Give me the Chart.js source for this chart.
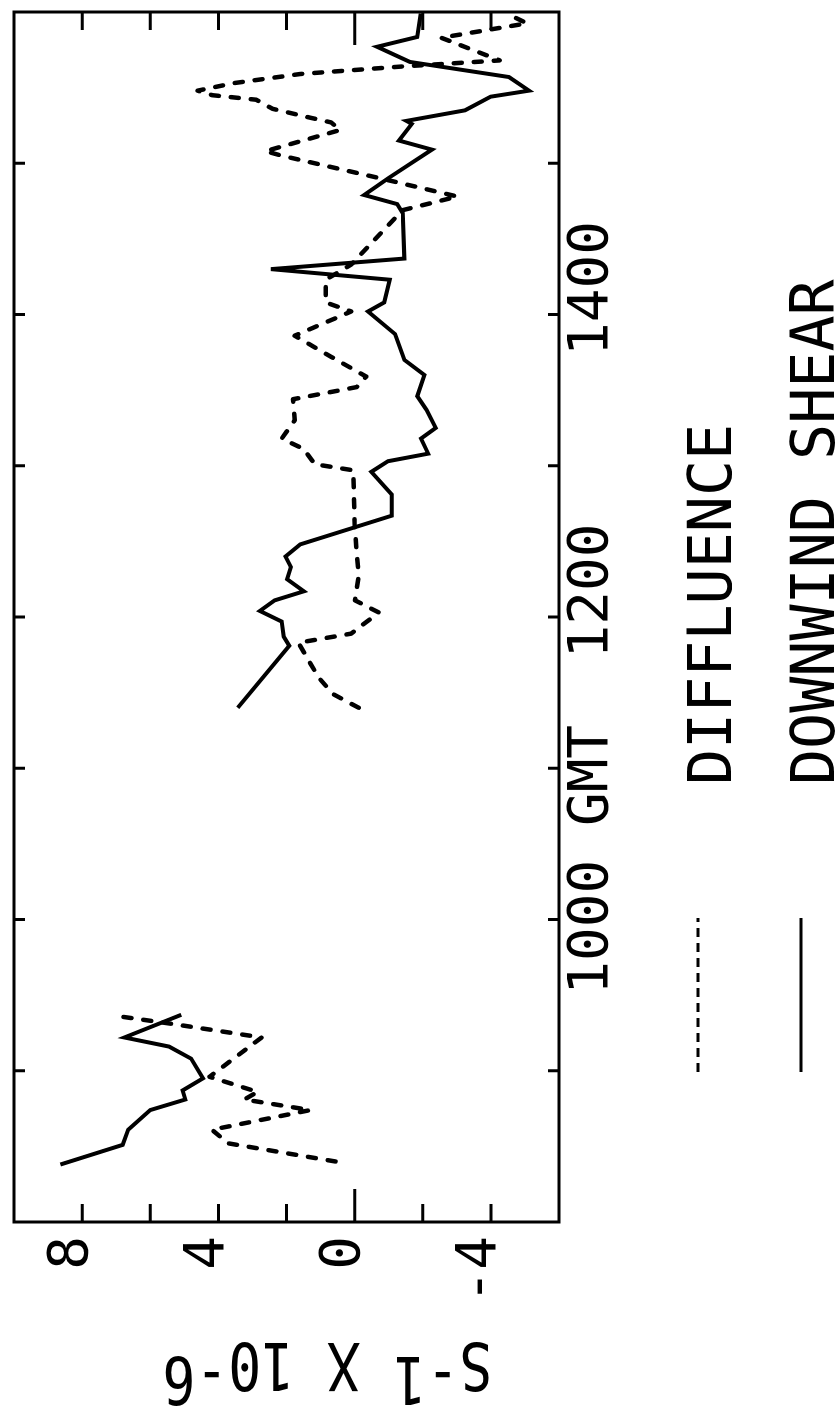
<!DOCTYPE html>
<html>
<head>
<meta charset="utf-8">
<script src="https://cdn.jsdelivr.net/npm/chart.js@4/dist/chart.umd.min.js"></script>
<style>
  html, body { margin: 0; padding: 0; background: #fff; overflow: hidden; }
  #page { position: absolute; left: 0; top: 0; width: 836px; height: 1414px; overflow: hidden; background: #fff; }
  #rot { position: absolute; left: 0; top: 1414px; width: 1414px; height: 836px;
         transform-origin: 0 0; transform: rotate(-90deg); }
</style>
</head>
<body>
<div id="page"><div id="rot"><canvas id="c" width="1414" height="836"></canvas></div></div>
<script>
// ---- data (time in decimal hours GMT, values in s^-1 x 10^-6; null = gap) ----
const seriesNames = ['DIFFLUENCE', 'DOWNWIND SHEAR'];

const diffTimes = [8.40, 8.52, 8.61, 8.74, 8.81, 8.86, 8.96, 9.22, 9.31, 9.36,
  10.4,
  11.40, 11.49, 11.60, 11.83, 11.89, 12.03, 12.11, 12.27, 12.60, 12.97,
  13.01, 13.11, 13.18, 13.30, 13.44, 13.52, 13.59, 13.72, 13.86, 14.02,
  14.08, 14.23, 14.33, 14.69, 14.78, 14.90, 15.05, 15.08, 15.22, 15.27,
  15.30, 15.36, 15.42, 15.45, 15.48, 15.53, 15.59, 15.64, 15.68, 15.83,
  15.925, 15.99];
const diffValues = [0.56, 3.71, 4.19, 1.30, 3.24, 2.85, 4.26, 2.73, 5.36, 6.92,
  null,
  -0.12, 0.63, 1.06, 1.65, 0.10, -0.71, -0.01, -0.12, 0.0, 0.04,
  1.17, 1.49, 2.14, 1.76, 1.81, -0.06, -0.34, 0.69, 1.76, 0.10,
  0.85, 0.85, 0.10, -1.41, -3.02, -0.76, 2.14, 2.62, 0.42, 0.69,
  1.28, 2.41, 2.89, 4.18, 4.61, 3.54, 1.60, -1.41, -4.26, -2.54,
  -5.06, -4.47];

const shearTimes = [8.38, 8.51, 8.61, 8.74, 8.81, 8.87, 8.95, 9.08, 9.16, 9.22, 9.37,
  10.4,
  11.40, 11.81, 11.87, 11.97, 12.04, 12.11, 12.17, 12.25, 12.33, 12.40,
  12.48, 12.67, 12.81, 12.96, 13.03, 13.08, 13.18, 13.25, 13.37, 13.46,
  13.60, 13.70, 13.87, 14.02, 14.08, 14.23, 14.30, 14.37, 14.67, 14.73,
  14.79, 14.90, 15.09, 15.15, 15.26, 15.28, 15.35, 15.44, 15.48, 15.57,
  15.67, 15.77, 15.835, 15.99];
const shearValues = [8.64, 6.81, 6.65, 6.00, 4.97, 5.05, 4.45, 4.80, 5.45, 6.76, 5.09,
  null,
  3.43, 1.92, 2.08, 2.14, 2.78, 2.35, 1.49, 1.98, 1.87, 2.03,
  1.60, -1.09, -1.09, -0.49, -0.98, -2.16, -1.95, -2.38, -2.11, -1.84,
  -2.05, -1.46, -1.19, -0.39, -0.87, -1.03, 2.46, -1.46, -1.41, -1.25,
  -0.28, -0.98, -2.27, -1.30, -1.68, -1.52, -3.24, -3.99, -5.12, -4.53,
  -1.62, -0.66, -1.84, -1.94];

const timeTickLabels = { 10: '  1000 GMT', 12: '1200', 14: '1400' };
const valueTickLabels = [8, 4, 0, -4];
const axisTitleParts = [['S', false], ['-1', true], [' X 10', false], ['-6', true]];

// ---- helpers ----
const MONO = "'DejaVu Sans Mono', 'Liberation Mono', monospace";
function toPoints(ts, vs) { return ts.map((t, i) => ({ x: t, y: vs[i] })); }

const frameTicks = {
  id: 'frameTicks',
  afterDraw(chart) {
    const { ctx, chartArea: a, scales: { x, y } } = chart;
    ctx.save();
    ctx.strokeStyle = '#000';
    ctx.lineWidth = 3;
    ctx.strokeRect(a.left, a.top, a.right - a.left, a.bottom - a.top);
    ctx.beginPath();
    x.ticks.forEach(t => {
      if (t.value <= x.min || t.value >= x.max) return;
      const px = x.getPixelForValue(t.value);
      ctx.moveTo(px, a.bottom); ctx.lineTo(px, a.bottom - 11);
      ctx.moveTo(px, a.top); ctx.lineTo(px, a.top + 11);
    });
    y.ticks.forEach(t => {
      if (t.value <= y.min || t.value >= y.max) return;
      const py = y.getPixelForValue(t.value);
      const len = t.value === 0 ? 33 : 18;
      ctx.moveTo(a.left, py); ctx.lineTo(a.left + len, py);
      ctx.moveTo(a.right, py); ctx.lineTo(a.right - len, py);
    });
    ctx.stroke();
    ctx.restore();
  }
};

const axisTitle = {
  id: 'axisTitle',
  afterDraw(chart) {
    const { ctx, chartArea: a } = chart;
    const pitch = 33;
    const chars = [];
    axisTitleParts.forEach(([s, sup]) => s.split('').forEach(c => chars.push([c, sup])));
    const n = chars.length;
    const cy = a.top + (a.bottom - a.top) * 0.575;
    const baseX = 71;
    ctx.save();
    ctx.translate(0, cy);
    ctx.rotate(-Math.PI / 2);
    ctx.fillStyle = '#000';
    ctx.font = '66px ' + MONO;
    ctx.textAlign = 'center';
    ctx.textBaseline = 'alphabetic';
    chars.forEach(([c, sup], i) => {
      const lx = (i - (n - 1) / 2) * pitch;
      ctx.save();
      ctx.translate(lx, sup ? baseX - 14 : baseX);
      ctx.scale(0.83, 1);
      ctx.fillText(c, 0, 0);
      ctx.restore();
    });
    ctx.restore();
  }
};

const sideLegend = {
  id: 'sideLegend',
  afterDraw(chart) {
    const { ctx, chartArea: a } = chart;
    ctx.save();
    ctx.fillStyle = '#000';
    ctx.strokeStyle = '#000';
    ctx.font = '60px ' + MONO;
    ctx.textAlign = 'left';
    ctx.textBaseline = 'alphabetic';
    chart.data.datasets.forEach((ds, i) => {
      const ly = a.bottom + 139 + i * 103;
      ctx.beginPath();
      ctx.lineWidth = 3;
      ctx.setLineDash(ds.borderDash && ds.borderDash.length ? [9, 6] : []);
      ctx.moveTo(a.left + 150, ly);
      ctx.lineTo(a.left + 304, ly);
      ctx.stroke();
      ctx.setLineDash([]);
      ctx.fillText(ds.label, a.left + 437, ly + 33);
    });
    ctx.restore();
  }
};

new Chart(document.getElementById('c'), {
  type: 'line',
  data: {
    datasets: [
      {
        label: seriesNames[0],
        data: toPoints(diffTimes, diffValues),
        borderColor: '#000',
        borderWidth: 4.5,
        borderDash: [8, 12],
        borderCapStyle: 'round',
        borderJoinStyle: 'round',
        pointRadius: 0,
        tension: 0,
        fill: false,
        spanGaps: false
      },
      {
        label: seriesNames[1],
        data: toPoints(shearTimes, shearValues),
        borderColor: '#000',
        borderWidth: 4,
        borderJoinStyle: 'miter',
        pointRadius: 0,
        tension: 0,
        fill: false,
        spanGaps: false
      }
    ]
  },
  options: {
    responsive: false,
    maintainAspectRatio: false,
    animation: false,
    layout: { padding: { top: 14, right: 12, left: 0, bottom: 0 } },
    plugins: { legend: { display: false }, tooltip: { enabled: false }, title: { display: false } },
    scales: {
      x: {
        type: 'linear', position: 'bottom', min: 8, max: 16,
        grid: { display: false, drawTicks: false },
        border: { display: false },
        ticks: {
          stepSize: 1, autoSkip: false, maxRotation: 0, minRotation: 0,
          padding: 0, labelOffset: 26, color: '#000',
          font: { family: MONO, size: 56 },
          callback: v => timeTickLabels[v] ?? ''
        },
        afterFit: s => { s.height = 277; s.paddingLeft = 0; s.paddingRight = 0; }
      },
      y: {
        type: 'linear', position: 'left', min: -6, max: 10,
        grid: { display: false, drawTicks: false },
        border: { display: false },
        ticks: {
          stepSize: 2, autoSkip: false, padding: 14, labelOffset: -10, color: '#000',
          font: { family: MONO, size: 56 },
          callback: v => valueTickLabels.includes(v) ? String(v) : ''
        },
        afterFit: s => { s.width = 192; s.paddingTop = 0; s.paddingBottom = 0; }
      }
    }
  },
  plugins: [frameTicks, axisTitle, sideLegend]
});
</script>
</body>
</html>
